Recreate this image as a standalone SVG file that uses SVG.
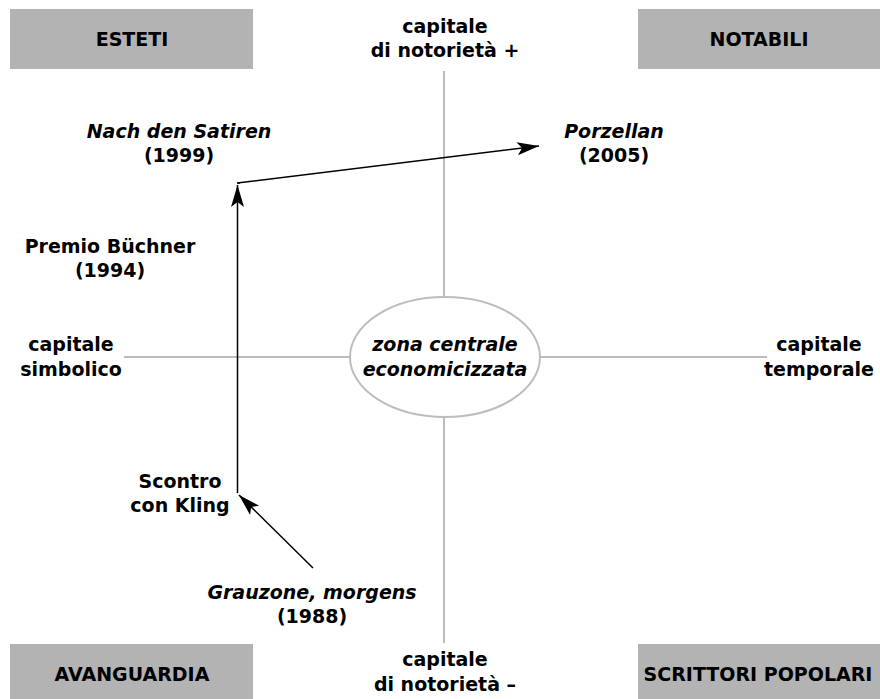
<svg xmlns="http://www.w3.org/2000/svg" width="880" height="699" viewBox="0 0 880 699">
<style>
text{font-family:"DejaVu Sans","Liberation Sans",sans-serif;font-weight:bold;font-size:19px;fill:#000;text-anchor:middle}
.it{font-style:italic}
.box{fill:#b3b3b3}
.axis{stroke:#bdbdbd;stroke-width:2;fill:none}
.arr{stroke:#000;stroke-width:1.5;fill:none;marker-end:url(#ah)}
</style>
<defs>
<marker id="ah" markerUnits="userSpaceOnUse" markerWidth="24" markerHeight="14" refX="22" refY="6.5" orient="auto">
<path d="M0,0 L22,6.5 L0,13 L5,6.5 z" fill="#000"/>
</marker>
</defs>
<g id="axes">
<line class="axis" x1="444" y1="71" x2="444" y2="297"/>
<line class="axis" x1="444" y1="417" x2="444" y2="643"/>
<line class="axis" x1="124" y1="357" x2="350" y2="357"/>
<line class="axis" x1="540" y1="357" x2="767" y2="357"/>
</g>
<g id="esteti"><rect class="box" x="10" y="9" width="243" height="60"/><text x="132" y="46">ESTETI</text></g>
<g id="notabili"><rect class="box" x="638" y="9" width="242" height="60"/><text x="759" y="46">NOTABILI</text></g>
<g id="avanguardia"><rect class="box" x="10" y="644" width="243" height="60"/><text x="132" y="681">AVANGUARDIA</text></g>
<g id="scrittori"><rect class="box" x="638" y="644" width="242" height="60"/><text x="758" y="681">SCRITTORI POPOLARI</text></g>
<g id="zona"><ellipse cx="445" cy="357" rx="95" ry="60" fill="#fff" stroke="#bdbdbd" stroke-width="2"/><text class="it" x="445" y="351">zona centrale</text><text class="it" x="445" y="376">economicizzata</text></g>
<g id="notorieta-plus"><text x="445" y="33">capitale</text><text x="445" y="57">di notorietà +</text></g>
<g id="notorieta-minus"><text x="445" y="666">capitale</text><text x="445" y="691">di notorietà –</text></g>
<g id="simbolico"><text x="71" y="351">capitale</text><text x="71" y="376">simbolico</text></g>
<g id="temporale"><text x="819" y="351">capitale</text><text x="819" y="376">temporale</text></g>
<g id="nach"><text class="it" x="179" y="138">Nach den Satiren</text><text x="179" y="162">(1999)</text></g>
<g id="porzellan"><text class="it" x="614" y="138">Porzellan</text><text x="614" y="162">(2005)</text></g>
<g id="buechner"><text x="110" y="253">Premio Büchner</text><text x="110" y="277">(1994)</text></g>
<g id="scontro"><text x="180" y="488">Scontro</text><text x="180" y="512">con Kling</text></g>
<g id="grauzone"><text class="it" x="312" y="599">Grauzone, morgens</text><text x="312" y="623">(1988)</text></g>
<g id="connectors">
<line class="arr" x1="313" y1="568" x2="239" y2="495"/>
<line class="arr" x1="237.5" y1="493" x2="237.5" y2="185"/>
<line stroke="#000" stroke-width="1.5" x1="237.5" y1="183" x2="240" y2="183"/>
<line class="arr" x1="237" y1="183" x2="539" y2="146"/>
</g>
</svg>
